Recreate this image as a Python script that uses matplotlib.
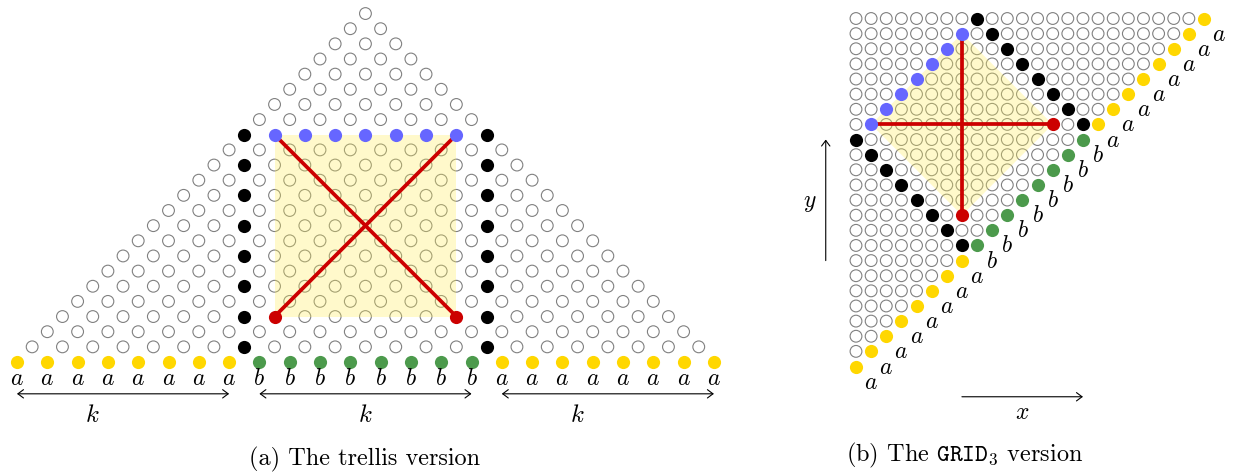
import matplotlib
matplotlib.use("Agg")
import matplotlib.pyplot as plt
from matplotlib.patches import Polygon

plt.rcParams['mathtext.fontset'] = 'cm'

# GRID_3 lattice: cells (c, j) with 0 <= c <= j < N; trellis row r = j - c, pos x = c + j
N = 24
diag_labels = list('aaaaaaaabbbbbbbbaaaaaaaa')

black_c = [0, 1, 2, 3, 4, 5, 6, 7, 8, 9, 10, 11, 12, 13, 14, 15]
black_j = [15, 14, 13, 12, 11, 10, 9, 8, 23, 22, 21, 20, 19, 18, 17, 16]
blue_c = [1, 2, 3, 4, 5, 6, 7]
blue_j = [16, 17, 18, 19, 20, 21, 22]
red_c = [7, 13]
red_j = [10, 16]

# the two red segments (start cell -> end cell)
cross_from = [(7, 10), (13, 16)]
cross_to = [(7, 22), (1, 16)]

# bracket arrows under the trellis, and where the k's go
brace_x0 = [0, 16, 32]
brace_x1 = [14, 30, 46]
k_x = [5, 23, 37]

COL = {'a': '#ffd700', 'b': '#4c9a4c'}
BLUE = '#6666ff'
RED = '#cc0000'
FILL = '#ffee55'
RING = '#808080'

W, H = 1238, 475
fig = plt.figure(figsize=(W / 100, H / 100), dpi=100)


def make_axes(left, right, ox, oy, step):
    """axes over pixel columns [left, right]; data origin at pixel (ox, oy)"""
    ax = fig.add_axes([left / W, 0, (right - left) / W, 1])
    ax.set_xlim((left - ox) / step, (right - ox) / step)
    ax.set_ylim((oy - H) / step, oy / step)
    ax.axis('off')
    return ax


def trellis(c, j):
    return c + j, j - c


def draw(ax, to_xy, lab_off):
    cells = [(c, j) for j in range(N) for c in range(j + 1)]
    special = set(zip(black_c, black_j)) | set(zip(blue_c, blue_j)) | set(zip(red_c, red_j))
    plain = [to_xy(c, j) for c, j in cells if c != j and (c, j) not in special]
    ax.scatter([p[0] for p in plain], [p[1] for p in plain], s=72, facecolor='none',
               edgecolor=RING, linewidth=0.8, zorder=2)

    # shaded region spanned by the cross
    corners = [cross_from[0], cross_to[1], cross_to[0], cross_from[1]]
    ax.add_patch(Polygon([to_xy(c, j) for c, j in corners], closed=True,
                         facecolor=FILL, edgecolor='none', alpha=0.3, zorder=3))
    for (c0, j0), (c1, j1) in zip(cross_from, cross_to):
        x0, y0 = to_xy(c0, j0)
        x1, y1 = to_xy(c1, j1)
        ax.plot([x0, x1], [y0, y1], color=RED, lw=2.7, solid_capstyle='butt', zorder=4)

    def dots(cs, js, color):
        pts = [to_xy(c, j) for c, j in zip(cs, js)]
        ax.scatter([p[0] for p in pts], [p[1] for p in pts], s=90, color=color,
                   linewidth=0, zorder=5)

    dots(black_c, black_j, 'black')
    dots(blue_c, blue_j, BLUE)
    dots(red_c, red_j, RED)
    for c, lab in enumerate(diag_labels):
        dots([c], [c], COL[lab])
        x, y = to_xy(c, c)
        ax.text(x + lab_off[0], y + lab_off[1], f'${lab}$', fontsize=17,
                ha='center', va='center', zorder=6)


# (a) trellis
ax_a = make_axes(0, 730, 17, 362, 15.15)
draw(ax_a, trellis, (0, -1.05))
for x0, x1 in zip(brace_x0, brace_x1):
    ax_a.annotate('', xy=(x1, -2.1), xytext=(x0, -2.1),
                  arrowprops=dict(arrowstyle='<->,head_length=0.4,head_width=0.3',
                                  lw=0.8, color='black', shrinkA=0, shrinkB=0))
for x in k_x:
    ax_a.text(x, -3.5, '$k$', fontsize=18, ha='center', va='center')

# (b) GRID_3
ax_b = make_axes(730, 1238, 856, 366.5, 15.13)
draw(ax_b, lambda c, j: (c, j), (1.0, -1.0))
ax_b.annotate('', xy=(15, -2), xytext=(7, -2),
              arrowprops=dict(arrowstyle='->,head_length=0.4,head_width=0.3',
                              lw=0.8, color='black', shrinkA=0, shrinkB=0))
ax_b.annotate('', xy=(-2, 15), xytext=(-2, 7),
              arrowprops=dict(arrowstyle='->,head_length=0.4,head_width=0.3',
                              lw=0.8, color='black', shrinkA=0, shrinkB=0))
ax_b.text(11, -3.0, '$x$', fontsize=17, ha='center', va='center')
ax_b.text(-3.05, 10.9, '$y$', fontsize=17, ha='center', va='center')

fig.text(365 / W, 1 - 459 / H, '(a) The trellis version', family='cmr10',
         fontsize=17.5, ha='center', va='center')
fig.text(965 / W, 1 - 455 / H, r'(b) The $\mathtt{GRID}_3$ version', family='cmr10',
         fontsize=17.5, ha='center', va='center')

fig.savefig('out.png', dpi=100)
